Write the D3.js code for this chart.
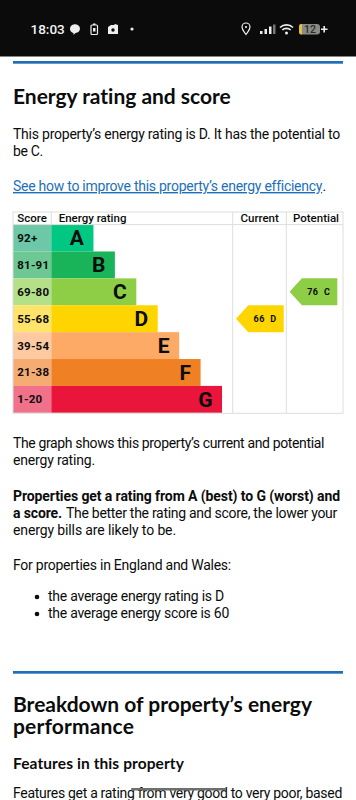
<!DOCTYPE html>
<html>
<head>
<meta charset="utf-8">
<script src="https://cdn.jsdelivr.net/npm/d3@7"></script>
<style>
html, body { margin: 0; padding: 0; background: #fff; overflow: hidden; }
svg { display: block; }
</style>
</head>
<body>
<div id="page"></div>
<script>
const ratings = ["A", "B", "C", "D", "E", "F", "G"]
const scores = ["92+", "81-91", "69-80", "55-68", "39-54", "21-38", "1-20"]
const barSteps = [2, 3, 4, 5, 6, 7, 8]
const barColors = ["#00c781", "#19b459", "#8dce46", "#ffd500", "#fcaa65", "#ef8023", "#e9153b"]
const scoreColors = ["#6cc8a6", "#6ec893", "#b5e08a", "#ffe36a", "#fdc9a0", "#f4ac73", "#f1708a"]
const columns = ["Score", "Energy rating", "Current", "Potential"]
const currentRating = { score: 66, rating: "D" }
const potentialRating = { score: 76, rating: "C" }

const w = 356
const h = 800
const bodyFont = "Roboto, sans-serif"
const headFont = "Lato, sans-serif"
const chartFont = "Roboto, sans-serif"
const bodySize = 14
const ink = "#0b0c0c"
const blue = "#1d70b8"

const svg = d3.select("#page").append("svg")
    .attr("width", w)
    .attr("height", h)

// status bar
svg.append("rect").attr("width", w).attr("height", 56.5).attr("fill", "#0b0b0b")
svg.append("text").text("18:03")
    .attr("x", 30.5).attr("y", 33.5)
    .attr("font-family", "Roboto, sans-serif").attr("font-size", 13.5).attr("font-weight", 500)
    .attr("fill", "#f4f4f4")

const status = svg.append("g").attr("fill", "#eee")
status.append("path").attr("d", "M70 29a5 4.4 0 1 1 5.5 4l-2 2v-2a5 4.4 0 0 1-3.5-4z")
status.append("rect").attr("x", 91).attr("y", 25).attr("width", 6.5).attr("height", 9.5).attr("rx", 1)
    .attr("fill", "none").attr("stroke", "#eee").attr("stroke-width", 1.2)
status.append("rect").attr("x", 93).attr("y", 23.5).attr("width", 2.5).attr("height", 1.5)
status.append("rect").attr("x", 93).attr("y", 28).attr("width", 2.5).attr("height", 3.5)
status.append("path").attr("d", "M108 27l3-2h3l1-1 3 1v9h-10z")
status.append("circle").attr("cx", 113).attr("cy", 30).attr("r", 1.7).attr("fill", "#0b0b0b")
status.append("circle").attr("cx", 132).attr("cy", 29).attr("r", 1.6)
status.append("path")
    .attr("d", "M246 34.5c-2-3-4-5-4-7.5a4 4 0 0 1 8 0c0 2.5-2 4.5-4 7.5z")
    .attr("fill", "none").attr("stroke", "#eee").attr("stroke-width", 1.2)
status.append("circle").attr("cx", 246).attr("cy", 27).attr("r", 1.1)
;[[260, 31, 3, "#eee"], [264.5, 29, 5, "#eee"], [269, 26.5, 7.5, "#eee"], [273, 24.5, 9.5, "#777"]].forEach(b => {
    status.append("rect").attr("x", b[0]).attr("y", b[1]).attr("width", 2.5).attr("height", b[2]).attr("fill", b[3])
})
status.append("path").attr("d", "M280 27.5a9.5 9.5 0 0 1 13 0M282.3 30a6 6 0 0 1 8.4 0")
    .attr("fill", "none").attr("stroke", "#eee").attr("stroke-width", 1.7)
status.append("circle").attr("cx", 286.5).attr("cy", 33).attr("r", 1.5)
status.append("rect").attr("x", 299).attr("y", 24).attr("width", 21).attr("height", 10.5).attr("rx", 3).attr("fill", "#8b8b86")
status.append("path").attr("d", "M302 24h-1a2.5 2.5 0 0 0-2 2.5v5.5a2.5 2.5 0 0 0 2 2.5h1z").attr("fill", "#e3bd4a")
svg.append("text").text("12")
    .attr("x", 304).attr("y", 33)
    .attr("font-family", "Roboto, sans-serif").attr("font-size", 10.5).attr("font-weight", 500)
    .attr("fill", "#2a2a2a")
status.append("path").attr("d", "M321 29.3h6.5M324.2 26v6.5")
    .attr("stroke", "#eee").attr("stroke-width", 1.6)

// page text
const blueRule = y => svg.append("rect")
    .attr("x", 13).attr("y", y).attr("width", 330).attr("height", 2.7).attr("fill", blue)

// width is what the line measures in the reference, letter spacing makes up the difference
const line = (str, x, y, size, weight, width, font) => {
    const t = svg.append("text").text(str)
        .attr("x", x).attr("y", y)
        .attr("font-family", font || bodyFont).attr("font-size", size).attr("font-weight", weight)
        .attr("fill", ink)
    if (width) {
        const natural = t.node().getComputedTextLength()
        t.attr("letter-spacing", (width - natural) / str.length)
    }
    return t
}

blueRule(61)
line("Energy rating and score", 13, 104, 21, 700, 218, headFont)
line("This property\u2019s energy rating is D. It has the potential to", 13, 139, bodySize, 400, 327)
line("be C.", 13, 156, bodySize, 400, 30)
line("See how to improve this property\u2019s energy efficiency", 13, 191, bodySize, 400, 308)
    .attr("fill", blue).attr("text-decoration", "underline")
line(".", 322.5, 191, bodySize, 400)

line("The graph shows this property\u2019s current and potential", 13, 448, bodySize, 400, 311)
line("energy rating.", 13, 465, bodySize, 400, 82)
line("Properties get a rating from A (best) to G (worst) and", 13, 501, bodySize, 700, 327)
line("a score.", 13, 518, bodySize, 700, 49)
line("The better the rating and score, the lower your", 66, 518, bodySize, 400, 271)
line("energy bills are likely to be.", 13, 535, bodySize, 400, 163)
line("For properties in England and Wales:", 13, 570, bodySize, 400, 218)
svg.append("circle").attr("cx", 37).attr("cy", 597).attr("r", 2.3).attr("fill", ink)
line("the average energy rating is D", 48, 601, bodySize, 400, 176)
svg.append("circle").attr("cx", 37).attr("cy", 614).attr("r", 2.3).attr("fill", ink)
line("the average energy score is 60", 48, 618, bodySize, 400, 181)

blueRule(671)
line("Breakdown of property\u2019s energy", 13, 712, 21, 700, 299, headFont)
line("performance", 13, 734, 21, 700, 121, headFont)
line("Features in this property", 13, 769, 15.5, 700, 171, headFont)
line("Features get a rating from very good to very poor, based", 13, 798, bodySize, 400, 329)
svg.append("rect").attr("x", 131).attr("y", 788).attr("width", 95).attr("height", 2.5)
    .attr("rx", 1).attr("fill", "#6f6f6f")

// chart
const chart = svg.append("g").attr("font-family", chartFont).attr("fill", ink)

const x = d3.scaleLinear().domain([0, 8]).range([50.6, 222])
const y = d3.scaleBand().domain(ratings).range([224.6, 412.8])
const columnEdges = d3.scaleOrdinal().domain(columns).range([13, 51.3, 232.7, 286.3])
const gridColor = "#dedede"
const right = 343

chart.selectAll(".score")
    .data(ratings)
    .enter()
    .append("rect")
    .attr("class", "score")
    .attr("x", columnEdges("Score"))
    .attr("y", d => y(d))
    .attr("width", columnEdges("Energy rating") - columnEdges("Score"))
    .attr("height", y.bandwidth())
    .attr("fill", (d, i) => scoreColors[i])

chart.selectAll(".bar")
    .data(ratings)
    .enter()
    .append("rect")
    .attr("class", "bar")
    .attr("x", columnEdges("Energy rating"))
    .attr("y", d => y(d))
    .attr("width", (d, i) => x(barSteps[i]) - columnEdges("Energy rating"))
    .attr("height", y.bandwidth())
    .attr("fill", (d, i) => barColors[i])

chart.selectAll(".score-label")
    .data(ratings)
    .enter()
    .append("text")
    .attr("class", "score-label")
    .text((d, i) => scores[i])
    .attr("x", 17.3)
    .attr("y", d => y(d) + y.bandwidth() / 2 + 4)
    .attr("font-size", 11.5)
    .attr("font-weight", 700)
    .attr("letter-spacing", 0.2)

chart.selectAll(".letter")
    .data(ratings)
    .enter()
    .append("text")
    .attr("class", "letter")
    .text(d => d)
    .attr("x", (d, i) => x(barSteps[i]) - 9.5)
    .attr("y", d => y(d) + y.bandwidth() / 2 + 7.3)
    .attr("text-anchor", "end")
    .attr("font-size", 21)
    .attr("font-weight", 700)

// grid over the table
const grid = chart.append("g").attr("stroke", gridColor).attr("fill", "none")
grid.append("rect")
    .attr("x", columnEdges("Score")).attr("y", 212)
    .attr("width", right - columnEdges("Score")).attr("height", 201.3)
grid.append("line")
    .attr("x1", columnEdges("Score")).attr("x2", right)
    .attr("y1", y.range()[0]).attr("y2", y.range()[0])
grid.append("line")
    .attr("x1", columnEdges("Energy rating")).attr("x2", columnEdges("Energy rating"))
    .attr("y1", 212).attr("y2", y.range()[0])
;["Current", "Potential"].forEach(c => {
    grid.append("line")
        .attr("x1", columnEdges(c)).attr("x2", columnEdges(c))
        .attr("y1", 212).attr("y2", 413.3)
})

const headerX = [17.3, 58.7, 259.7, 316]
chart.selectAll(".header")
    .data(columns)
    .enter()
    .append("text")
    .attr("class", "header")
    .text(d => d)
    .attr("x", (d, i) => headerX[i])
    .attr("y", 222.2)
    .attr("text-anchor", (d, i) => i < 2 ? "start" : "middle")
    .attr("font-size", 11.5)
    .attr("font-weight", 500)

// arrows
const arrow = (value, column, tailX) => {
    const top = y(value.rating)
    const tipX = columnEdges(column) + 3.3
    const g = chart.append("g")
    g.append("path")
        .attr("d", d3.line()([
            [tipX, top + y.bandwidth() / 2],
            [tipX + 12.3, top],
            [tailX, top],
            [tailX, top + y.bandwidth()],
            [tipX + 12.3, top + y.bandwidth()]
        ]) + "Z")
        .attr("fill", barColors[ratings.indexOf(value.rating)])
    g.append("text")
        .text(value.score + "\u00a0\u00a0" + value.rating)
        .attr("x", (tipX + tailX) / 2 + 5.3)
        .attr("y", top + y.bandwidth() / 2 + 3.5)
        .attr("text-anchor", "middle")
        .attr("font-size", 9)
        .attr("font-weight", 700)
        .attr("letter-spacing", 0.5)
}
arrow(currentRating, "Current", 283.7)
arrow(potentialRating, "Potential", 337.3)
</script>
</body>
</html>
